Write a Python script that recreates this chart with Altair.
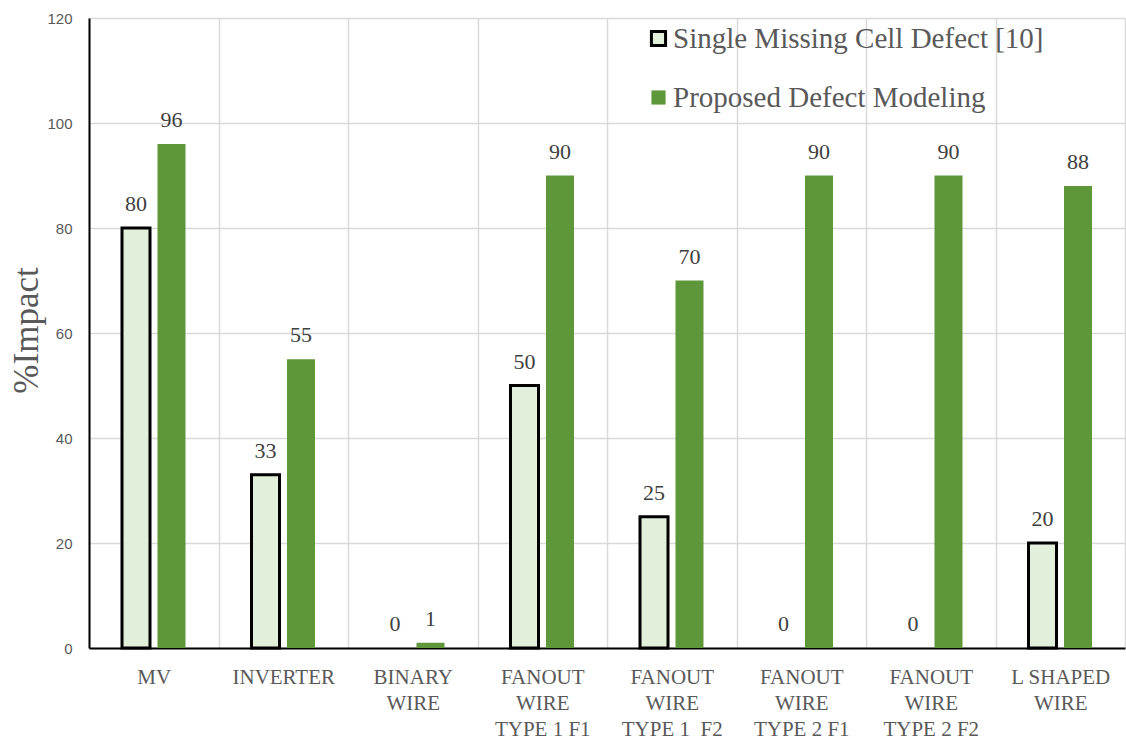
import altair as alt
import pandas as pd

categories = ["MV", "INVERTER", "BINARY|WIRE", "FANOUT|WIRE|TYPE 1 F1",
              "FANOUT|WIRE|TYPE 1\u00a0\u00a0F2", "FANOUT|WIRE|TYPE 2 F1",
              "FANOUT|WIRE|TYPE 2 F2", "L SHAPED|WIRE"]
series = ["Single Missing Cell Defect [10]", "Proposed Defect Modeling"]
single_missing = [80, 33, 0, 50, 25, 0, 0, 20]
proposed = [96, 55, 1, 90, 70, 90, 90, 88]
y_ticks = [0, 20, 40, 60, 80, 100, 120]

rows = []
for c, a, b in zip(categories, single_missing, proposed):
    rows.append({"category": c, "series": series[0], "value": a})
    rows.append({"category": c, "series": series[1], "value": b})
df = pd.DataFrame(rows)

SERIF = "Liberation Serif, Times New Roman, serif"
fill_colors = ["#e2efda", "#5e973a"]
stroke_colors = ["#000000", "transparent"]

legend = alt.Legend(
    title=None, orient="none", legendX=555, legendY=6,
    symbolType="square", symbolSize=200, symbolStrokeWidth=3,
    labelFont=SERIF, labelFontSize=29, labelColor="#595959",
    labelOffset=0, rowPadding=29, padding=0, labelLimit=600,
)

base = alt.Chart(df).encode(
    x=alt.X("category:N", sort=categories,
            scale=alt.Scale(paddingInner=0, paddingOuter=0),
            axis=alt.Axis(title=None, labelExpr="split(datum.label, '|')",
                          labelAngle=0, tickBand="extent", ticks=False,
                          grid=True, gridColor="#d9d9d9", gridWidth=1.5,
                          domainColor="#000000", domainWidth=2,
                          labelFont=SERIF, labelFontSize=21,
                          labelColor="#595959", labelLineHeight=26,
                          labelPadding=18)),
    xOffset=alt.XOffset("series:N", sort=series,
                        scale=alt.Scale(domain=series, paddingInner=0.211,
                                        paddingOuter=0.93)),
    y=alt.Y("value:Q", scale=alt.Scale(domain=[0, 120], nice=False),
            axis=alt.Axis(values=y_ticks, ticks=False, grid=True,
                          gridColor="#d9d9d9", gridWidth=1.5,
                          domainColor="#000000", domainWidth=2,
                          labelFont="Liberation Sans", labelFontSize=15,
                          labelColor="#595959", labelPadding=17,
                          title="%Impact", titleFont=SERIF,
                          titleFontSize=35, titleFontWeight="normal",
                          titleColor="#595959", titleAngle=270,
                          titleX=-52, titleY=312, titleAlign="center",
                          titleBaseline="alphabetic")),
)

bars = base.transform_filter("datum.value > 0").mark_bar(strokeWidth=3).encode(
    fill=alt.Fill("series:N", scale=alt.Scale(domain=series, range=fill_colors),
                  legend=legend),
    stroke=alt.Stroke("series:N", scale=alt.Scale(domain=series, range=stroke_colors),
                      legend=legend),
)

labels = base.mark_text(font=SERIF, fontSize=22, color="#404040",
                        dy=-17, baseline="alphabetic").encode(
    text=alt.Text("value:Q")
)

chart = alt.layer(bars, labels).properties(
    width=1036, height=630,
    padding={"left": 89, "top": 18, "right": 1, "bottom": 95},
    autosize=alt.AutoSizeParams(type="none"),
).configure_view(stroke=None)

chart.save("out.html", embed_options={"renderer": "svg", "actions": False})
